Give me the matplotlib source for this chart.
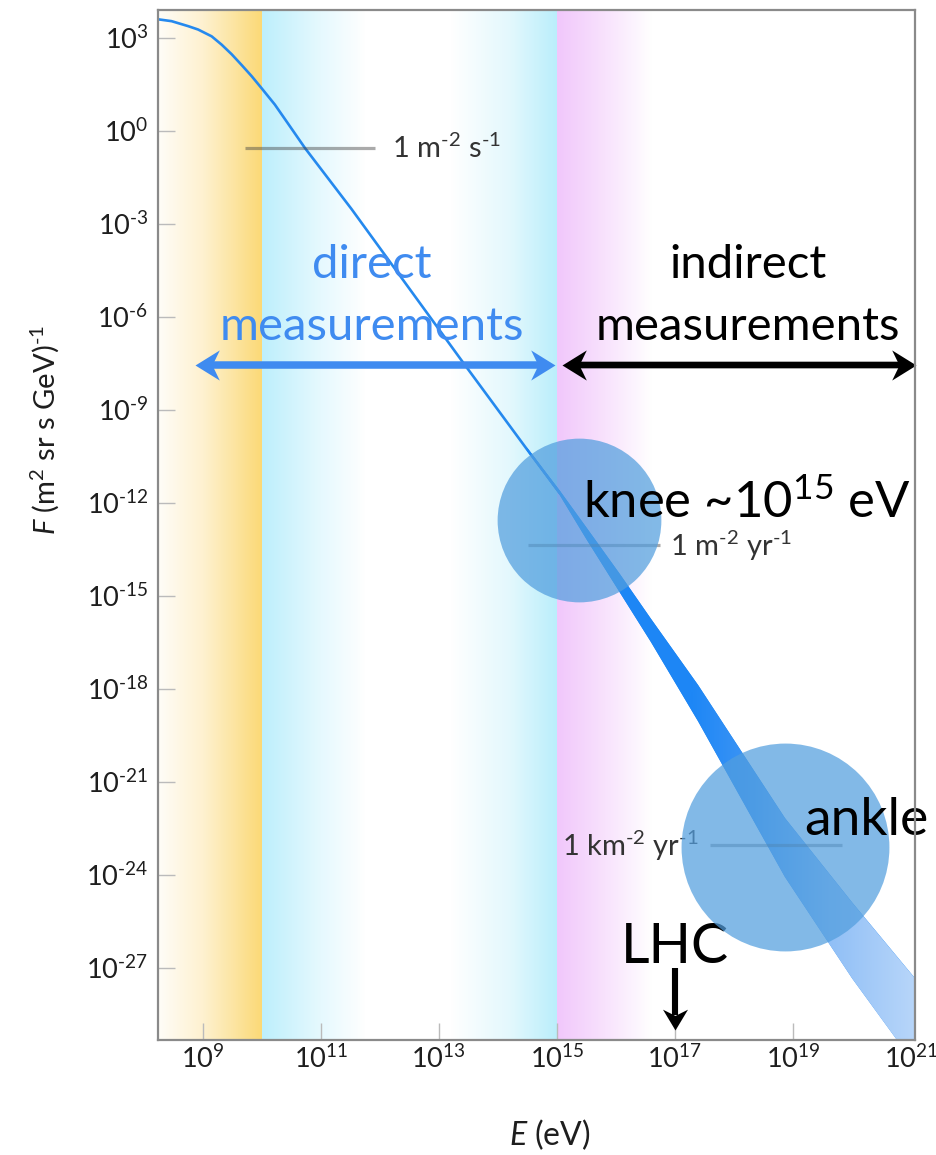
import numpy as np
import matplotlib
matplotlib.use("Agg")
import matplotlib.pyplot as plt
from matplotlib.colors import to_rgb
from matplotlib.image import AxesImage

plt.rcParams["font.family"] = ["Lato", "DejaVu Sans"]
plt.rcParams["mathtext.fontset"] = "custom"
plt.rcParams["mathtext.rm"] = "Lato"
plt.rcParams["mathtext.it"] = "Lato:italic"
plt.rcParams["mathtext.bf"] = "Lato:bold"
plt.rcParams["mathtext.default"] = "regular"

# ---- cosmic-ray all-particle flux (log10 E [eV], log10 F) ----
line_logE = [8.24, 8.47, 8.75, 8.92, 9.15, 9.32, 9.49, 9.66, 9.83, 9.99,
             10.22, 10.45, 10.73, 11.52, 13.38, 14.49, 15.05]
line_logF = [3.60, 3.54, 3.38, 3.27, 3.05, 2.78, 2.47, 2.12, 1.76, 1.39,
             0.85, 0.22, -0.55, -2.52, -7.39, -10.26, -11.68]

# high-energy part: centre of the band and its vertical width (decades)
band_logE = [14.49, 15.05, 15.5, 16.07, 16.59, 17.39, 18.86, 20.0, 21.1]
band_logF = [-10.26, -11.68, -12.98, -14.60, -16.10, -18.45, -23.10, -26.10, -28.80]
band_width = [0.10, 0.15, 0.38, 0.60, 0.75, 1.17, 1.90, 2.45, 2.80]

# integral-flux reference levels
ref_logF = [-0.55, -13.35, -23.03]
ref_from = [9.71, 14.51, 17.59]
ref_to = [11.92, 16.75, 19.83]
ref_labels = [r"1 m$^{\text{-}2}$ s$^{\text{-}1}$", r"1 m$^{\text{-}2}$ yr$^{\text{-}1}$",
              r"1 km$^{\text{-}2}$ yr$^{\text{-}1}$"]

# spectral features
knee_logE, knee_logF = 15.37, -12.55
ankle_logE, ankle_logF = 18.86, -23.10
lhc_logE = 17.0

# measurement ranges
direct_range = [8.86, 14.97]
indirect_range = [15.08, 21.08]

# axes
x_ticks = [9, 11, 13, 15, 17, 19, 21]
y_ticks = [3, 0, -3, -6, -9, -12, -15, -18, -21, -24, -27]
x_lim = (8.24, 21.07)
y_lim = (-29.32, 3.90)

# ---- figure ----
fig = plt.figure(figsize=(9.36, 11.55), dpi=100)
ax = fig.add_axes([158 / 936, 1 - 1040 / 1155, (915 - 158) / 936, (1040 - 10) / 1155])
ax.set_xscale("log")
ax.set_yscale("log")
ax.set_xlim(10 ** x_lim[0], 10 ** x_lim[1])
ax.set_ylim(10 ** y_lim[0], 10 ** y_lim[1])


def gradient_row(stops, n=3000):
    pos = np.linspace(x_lim[0], x_lim[1], n)
    xs = [s[0] for s in stops]
    cols = np.array([to_rgb(s[1]) for s in stops])
    row = np.stack([np.interp(pos, xs, cols[:, k]) for k in range(3)], axis=-1)
    return row[np.newaxis, :, :]


# coloured energy regions behind the spectrum
bg_stops = [
    (8.24, "#FFFDF8"), (9.0, "#FEF1D0"), (9.6, "#FCE39B"), (10.0, "#FBD976"),
    (10.0, "#BDEFFC"), (11.0, "#E6F9FE"), (11.75, "#FFFFFF"),
    (13.2, "#FFFFFF"), (14.2, "#E3F8FD"), (15.0, "#BAEEFB"),
    (15.0, "#F1C7FB"), (15.8, "#F8E2FD"), (16.6, "#FFFFFF"), (21.07, "#FFFFFF"),
]
bg = AxesImage(ax, extent=(0, 1, 0, 1), transform=ax.transAxes,
               interpolation="nearest", zorder=0)
bg.set_data(gradient_row(bg_stops))
ax.add_image(bg)

# spectrum: thin line at low energies
E_line = 10 ** np.array(line_logE)
F_line = 10 ** np.array(line_logF)
ax.plot(E_line, F_line, color="#2589EE", lw=1.9, solid_capstyle="round",
        solid_joinstyle="round", zorder=3)

# spectrum: widening band at high energies, shaded along energy
E_band = 10 ** np.array(band_logE)
c = np.array(band_logF)
w = np.array(band_width)
poly = ax.fill_between(E_band, 10 ** (c - w / 2), 10 ** (c + w / 2),
                       color="#1E86F3", lw=0, zorder=3)
band_stops = [(8.24, "#1B84F3"), (17.3, "#1E87F6"), (18.3, "#3E95F4"),
              (19.6, "#90BFF6"), (21.07, "#B8D6FA")]
band_img = AxesImage(ax, extent=(0, 1, 0, 1), transform=ax.transAxes,
                     interpolation="bilinear", zorder=3.1)
band_img.set_data(gradient_row(band_stops))
ax.add_image(band_img)
band_img.set_clip_path(poly.get_paths()[0], poly.get_transform())

# reference flux levels
for lf, a, b in zip(ref_logF, ref_from, ref_to):
    ax.plot([10 ** a, 10 ** b], [10 ** lf, 10 ** lf], color="#444444",
            alpha=0.45, lw=2.3, solid_capstyle="butt", zorder=3.5)
ax.text(10 ** 12.2, 10 ** -0.86, ref_labels[0], fontsize=21, color="#333333",
        ha="left", va="baseline", zorder=3.6)
ax.text(10 ** 16.92, 10 ** -13.70, ref_labels[1], fontsize=21, color="#333333",
        ha="left", va="baseline", zorder=3.6)
ax.text(10 ** 17.40, 10 ** -23.38, ref_labels[2], fontsize=21, color="#333333",
        ha="right", va="baseline", zorder=3.6)

# LHC energy
ax.text(10 ** lhc_logE, 10 ** -26.84, "LHC", fontsize=40, color="black",
        ha="center", va="baseline", zorder=3.7)
ax.plot([10 ** lhc_logE] * 2, [10 ** -27.0, 10 ** -28.5], color="black",
        lw=4.4, solid_capstyle="butt", zorder=3.7, clip_on=False)
head_down = [(0, 0), (-0.6, 1.0), (0, 0.7), (0.6, 1.0)]
ax.plot([10 ** lhc_logE], [10 ** -29.0], marker=head_down, ms=30,
        color="black", mew=0, zorder=3.7, clip_on=False)

# knee and ankle
ax.scatter([10 ** knee_logE], [10 ** knee_logF], s=13900, color="#529EDE",
           alpha=0.72, lw=0, zorder=4)
ax.scatter([10 ** ankle_logE], [10 ** ankle_logF], s=22400, color="#529EDE",
           alpha=0.72, lw=0, zorder=4)
ax.text(10 ** 15.44, 10 ** -12.48, r"knee ~10$^{15}$ eV", fontsize=36.5,
        color="black", ha="left", va="baseline", zorder=5, clip_on=False)
ax.text(10 ** 19.20, 10 ** -22.71, "ankle", fontsize=38.5, color="black",
        ha="left", va="baseline", zorder=5, clip_on=False)

# measurement ranges
blue = "#3F8BF0"
head_right = [(0, 0), (-1.0, 0.62), (-0.7, 0), (-1.0, -0.62)]
head_left = [(0, 0), (1.0, 0.62), (0.7, 0), (1.0, -0.62)]
y_arrow = 10 ** -7.55
for (a, b), col, lw in [(direct_range, blue, 5.4), (indirect_range, "black", 4.8)]:
    ax.annotate("", xy=(10 ** b, y_arrow), xytext=(10 ** a, y_arrow),
                arrowprops=dict(arrowstyle="-", color=col, lw=lw,
                                shrinkA=11, shrinkB=11, capstyle="butt"),
                zorder=5, annotation_clip=False)
    ax.plot([10 ** b], [y_arrow], marker=head_right, ms=35, color=col, mew=0,
            zorder=5, clip_on=False)
    ax.plot([10 ** a], [y_arrow], marker=head_left, ms=35, color=col, mew=0,
            zorder=5, clip_on=False)

ax.text(10 ** 11.86, 10 ** -4.32, "direct", fontsize=34, color=blue,
        ha="center", va="center", zorder=5)
ax.text(10 ** 11.86, 10 ** -6.32, "measurements", fontsize=34, color=blue,
        ha="center", va="center", zorder=5)
ax.text(10 ** 18.24, 10 ** -4.32, "indirect", fontsize=34, color="black",
        ha="center", va="center", zorder=5)
ax.text(10 ** 18.24, 10 ** -6.32, "measurements", fontsize=34, color="black",
        ha="center", va="center", zorder=5)


# ticks, frame, labels
def pow_label(k):
    if k < 0:
        return rf"$10^{{\text{{-}}{-k}}}$"
    return rf"$10^{{{k}}}$"


ax.set_xticks([10.0 ** k for k in x_ticks])
ax.set_xticklabels([pow_label(k) for k in x_ticks])
ax.set_yticks([10.0 ** k for k in y_ticks])
ax.set_yticklabels([pow_label(k) for k in y_ticks])
ax.minorticks_off()
ax.tick_params(direction="in", length=12, width=1.0, color="#BBBBBB",
               labelsize=19.5, labelcolor="#1e1e1e")
ax.tick_params(axis="y", pad=7)
ax.tick_params(axis="x", pad=4)
for sp in ax.spines.values():
    sp.set_color("#8a8a8a")
    sp.set_linewidth(1.6)
    sp.set_zorder(6)

fig.text(45 / 936, 1 - 430 / 1155, r"$\mathit{F}$ (m$^2$ sr s GeV)$^{\text{-}1}$",
         rotation=90, ha="center", va="center", fontsize=21, color="#1e1e1e")
fig.text(550 / 936, 1 - 1135 / 1155, r"$\mathit{E}$ (eV)", ha="center",
         va="center", fontsize=23, color="#1e1e1e")

fig.savefig("out.png", dpi=100, facecolor="white")
